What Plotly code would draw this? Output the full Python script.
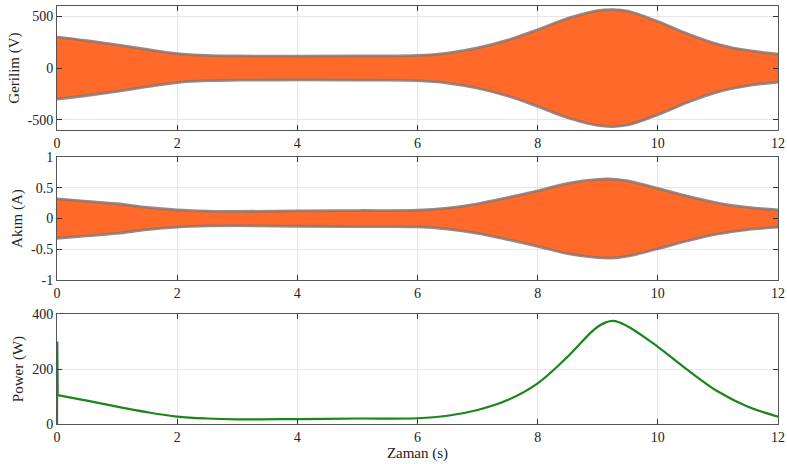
import plotly.graph_objects as go

# ---- data ----
t_env = [0, 0.5, 1, 1.5, 2, 2.5, 3, 4, 5, 6, 6.5, 7, 7.5, 8, 8.5, 9, 9.25, 9.5, 10, 10.5, 11, 11.5, 12]
voltage_amp = [300, 265, 225, 180, 140, 122, 117, 115, 117, 122, 145, 195, 270, 370, 480, 555, 565, 550, 450, 330, 230, 170, 135]
current_amp = [0.32, 0.28, 0.24, 0.18, 0.14, 0.12, 0.115, 0.125, 0.13, 0.135, 0.17, 0.24, 0.34, 0.45, 0.57, 0.635, 0.64, 0.61, 0.49, 0.36, 0.25, 0.18, 0.14]

t_pow = [0, 0.004, 0.012, 0.5, 1, 1.5, 2, 2.5, 3, 4, 5, 6, 6.5, 7, 7.5, 8, 8.5, 9, 9.25, 9.5, 10, 10.5, 11, 11.5, 12]
power = [0, 300, 105, 85, 63, 43, 27, 20, 17, 18, 20, 21, 30, 51, 87, 148, 245, 354, 375, 355, 281, 196, 118, 63, 27]

x_ticks = [0, 2, 4, 6, 8, 10, 12]
v_ticks = [-500, 0, 500]
v_ticktext = ["-500", "0", "500"]
a_ticks = [-1, -0.5, 0, 0.5, 1]
a_ticktext = ["-1", "-0.5", "0", "0.5", "1"]
p_ticks = [0, 200, 400]

ORANGE = "#FF6A2A"
EDGE = "rgba(140,118,110,0.85)"
GREEN = "#1B861B"
FONT = "Liberation Serif"

fig = go.Figure()


def envelope(t, amp, xa, ya):
    lower = [-a for a in amp]
    fig.add_trace(go.Scatter(x=t, y=lower, mode="lines", line=dict(color=EDGE, width=2.8, shape="spline"),
                             xaxis=xa, yaxis=ya, showlegend=False, hoverinfo="skip"))
    fig.add_trace(go.Scatter(x=t, y=amp, mode="lines", fill="tonexty", fillcolor=ORANGE,
                             line=dict(color=EDGE, width=2.8, shape="spline"),
                             xaxis=xa, yaxis=ya, showlegend=False, hoverinfo="skip"))


envelope(t_env, voltage_amp, "x", "y")
envelope(t_env, current_amp, "x2", "y2")
# start-up spike (linear) and the smooth remainder of the same power series
fig.add_trace(go.Scatter(x=t_pow[:3], y=power[:3], mode="lines", line=dict(color=GREEN, width=2.2),
                         xaxis="x3", yaxis="y3", showlegend=False))
fig.add_trace(go.Scatter(x=t_pow[2:], y=power[2:], mode="lines",
                         line=dict(color=GREEN, width=2.2, shape="spline", smoothing=1.0),
                         xaxis="x3", yaxis="y3", showlegend=False))

axis_common = dict(showline=True, linecolor="#555555", linewidth=1, mirror="ticks",
                   ticks="inside", ticklen=5, tickcolor="#333333", automargin=False,
                   showgrid=True, gridcolor="#E6E6E6", gridwidth=1, zeroline=False,
                   tickfont=dict(family=FONT, size=14, color="#222222"))

xcommon = dict(axis_common, range=[0, 12], tickvals=x_ticks, ticktext=[str(v) for v in x_ticks])

dom_top = [0.703, 1.0]
dom_mid = [0.344, 0.639]
dom_bot = [0.0, 0.263]

TFONT = dict(family=FONT, size=15, color="#222222")

fig.update_layout(
    width=787, height=464, autosize=False,
    margin=dict(l=57, r=9, t=6, b=40, autoexpand=False),
    paper_bgcolor="white", plot_bgcolor="white",
    font=dict(family=FONT, size=14, color="#222222"),
    xaxis=dict(xcommon, domain=[0, 1], anchor="y"),
    xaxis2=dict(xcommon, domain=[0, 1], anchor="y2"),
    xaxis3=dict(xcommon, domain=[0, 1], anchor="y3",
                title=dict(text="Zaman (s)", font=TFONT, standoff=0)),
    yaxis=dict(axis_common, domain=dom_top, anchor="x", range=[-600, 600],
               tickvals=v_ticks, ticktext=v_ticktext,
               title=dict(text="Gerilim (V)", font=TFONT, standoff=4)),
    yaxis2=dict(axis_common, domain=dom_mid, anchor="x2", range=[-1, 1],
                tickvals=a_ticks, ticktext=a_ticktext,
                title=dict(text="Akım (A)", font=TFONT, standoff=4)),
    yaxis3=dict(axis_common, domain=dom_bot, anchor="x3", range=[0, 400],
                tickvals=p_ticks, ticktext=[str(v) for v in p_ticks],
                title=dict(text="Power (W)", font=TFONT, standoff=4)),
)

fig.write_html("out.html", config={"displayModeBar": False},
               post_script="document.body.style.margin='0';document.body.style.padding='0';")
